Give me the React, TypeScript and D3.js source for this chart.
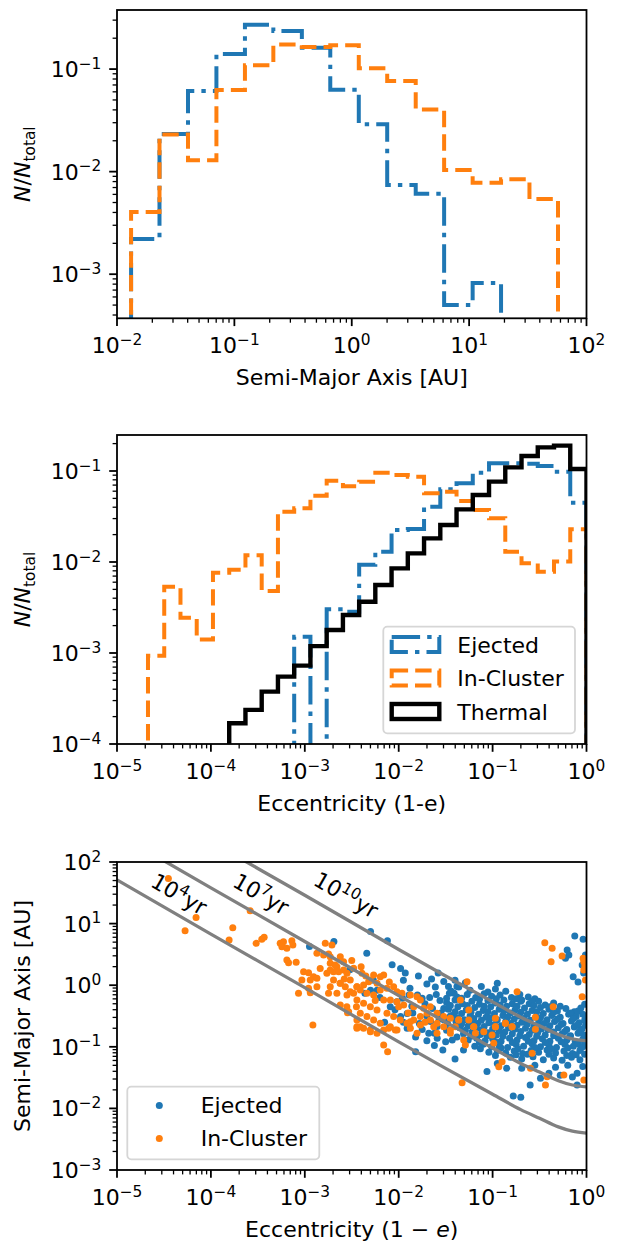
import * as d3 from "d3";
import { useEffect, useRef } from "react";

const BLUE = "#1f77b4";
const ORANGE = "#ff7f0e";
const GRAY = "#808080";

// panel 1: log10(a / AU) bin edges and normalised counts
const semiEdges = [-1.88, -1.638, -1.395, -1.153, -0.91, -0.668, -0.425, -0.183, 0.06, 0.302, 0.545, 0.787, 1.03, 1.272, 1.514, 1.757];
const semiEjected = [2.2e-3, 0.0233, 0.061, 0.14, 0.27, 0.235, 0.161, 0.063, 0.029, 7.4e-3, 6.1e-3, 5.0e-4, 8.2e-4, 0, 0];
const semiInCluster = [4.05e-3, 0.023, 0.0129, 0.0624, 0.109, 0.174, 0.164, 0.171, 0.1016, 0.0763, 0.0404, 0.01035, 7.78e-3, 8.45e-3, 5.4e-3];

// panel 2: log10(1-e) bin edges and normalised counts
const eccEdges = [-4.67, -4.497, -4.324, -4.151, -3.978, -3.805, -3.632, -3.459, -3.286, -3.113, -2.94, -2.767, -2.594, -2.421, -2.249, -2.076, -1.903, -1.73, -1.557, -1.384, -1.211, -1.038, -0.865, -0.692, -0.519, -0.346, -0.173, 0];
const eccEjected = [0, 0, 0, 0, 0, 0, 0, 0, 0, 1.51e-3, 0, 3.02e-3, 2.84e-3, 9.3e-3, 0.013, 0.0225, 0.023, 0.0405, 0.063, 0.0733, 0.0957, 0.1216, 0.1216, 0.12, 0.1135, 0.098, 0.0449];
const eccInCluster = [9.3e-4, 5.36e-3, 2.44e-3, 1.41e-3, 7.6e-3, 8.2e-3, 0.0119, 4.8e-3, 0.0357, 0.0389, 0.0536, 0.0783, 0.068, 0.0764, 0.0957, 0.0903, 0.0865, 0.0569, 0.0593, 0.0468, 0.0372, 0.0302, 0.013, 9.7e-3, 7.8e-3, 0.0101, 0.0229];
const eccThermal = [0, 0, 0, 0, 0, 1.69e-4, 2.37e-4, 3.76e-4, 5.5e-4, 7.26e-4, 1.19e-3, 1.79e-3, 2.62e-3, 3.66e-3, 5.58e-3, 8.5e-3, 0.01245, 0.0182, 0.0255, 0.0379, 0.0544, 0.0764, 0.1096, 0.146, 0.182, 0.19, 0.105];

// panel 3: [log10(1-e), log10(a/AU)]
const ejectedPoints = [
  [-1.36, -0.03], [-1.24, -0.08], [-1.12, -0.02], [-0.97, -0.06], [-0.86, -0.1], [-1.29, 0.04], [-0.95, 0.03], [-1.05, -0.11],
  [-1.46, -0.13], [-1.38, -0.19], [-1.27, -0.15], [-1.18, -0.2], [-1.09, -0.14], [-1.01, -0.18], [-0.92, -0.16], [-0.8, -0.2], [-0.71, -0.15], [-0.62, -0.19], [-0.69, -0.24], [-0.55, -0.22],
  [-1.49, -0.28], [-1.4, -0.24], [-1.32, -0.3], [-1.22, -0.26], [-1.14, -0.31], [-1.05, -0.25], [-0.97, -0.29], [-0.88, -0.24], [-0.79, -0.3], [-0.7, -0.26], [-0.61, -0.3], [-0.51, -0.26], [-0.44, -0.32], [-0.35, -0.29], [-0.28, -0.34],
  [-1.47, -0.39], [-1.37, -0.35], [-1.28, -0.4], [-1.19, -0.36], [-1.1, -0.41], [-1.02, -0.35], [-0.93, -0.39], [-0.85, -0.34], [-0.76, -0.4], [-0.66, -0.37], [-0.58, -0.41], [-0.49, -0.36], [-0.4, -0.39], [-0.31, -0.42], [-0.22, -0.38], [-0.13, -0.43], [-0.06, -0.37], [-0.02, -0.31],
  [-1.43, -0.49], [-1.33, -0.46], [-1.24, -0.5], [-1.15, -0.47], [-1.07, -0.52], [-0.98, -0.46], [-0.89, -0.49], [-0.81, -0.45], [-0.72, -0.5], [-0.63, -0.47], [-0.54, -0.52], [-0.46, -0.46], [-0.37, -0.49], [-0.28, -0.52], [-0.19, -0.47], [-0.11, -0.51], [-0.04, -0.47],
  [-1.39, -0.59], [-1.3, -0.56], [-1.21, -0.6], [-1.12, -0.57], [-1.04, -0.61], [-0.95, -0.56], [-0.86, -0.59], [-0.77, -0.55], [-0.69, -0.6], [-0.6, -0.57], [-0.51, -0.61], [-0.42, -0.56], [-0.34, -0.59], [-0.25, -0.62], [-0.16, -0.58], [-0.08, -0.61], [-0.02, -0.57],
  [-1.35, -0.69], [-1.26, -0.66], [-1.17, -0.7], [-1.09, -0.67], [-1.0, -0.71], [-0.91, -0.66], [-0.83, -0.69], [-0.74, -0.65], [-0.65, -0.7], [-0.56, -0.67], [-0.48, -0.71], [-0.39, -0.66], [-0.3, -0.69], [-0.21, -0.72], [-0.13, -0.68], [-0.05, -0.71], [-0.01, -0.65],
  [-1.31, -0.79], [-1.22, -0.76], [-1.13, -0.8], [-1.05, -0.77], [-0.96, -0.81], [-0.87, -0.76], [-0.79, -0.79], [-0.7, -0.75], [-0.61, -0.8], [-0.52, -0.77], [-0.44, -0.81], [-0.35, -0.76], [-0.26, -0.79], [-0.17, -0.82], [-0.09, -0.78], [-0.03, -0.81],
  [-1.26, -0.89], [-1.17, -0.86], [-1.08, -0.9], [-1.0, -0.87], [-0.91, -0.91], [-0.82, -0.86], [-0.74, -0.89], [-0.65, -0.85], [-0.56, -0.9], [-0.47, -0.87], [-0.39, -0.91], [-0.3, -0.86], [-0.21, -0.89], [-0.12, -0.92], [-0.04, -0.88],
  [-1.19, -0.99], [-1.1, -0.96], [-1.01, -1.0], [-0.93, -0.97], [-0.84, -1.01], [-0.75, -0.96], [-0.67, -0.99], [-0.58, -0.95], [-0.49, -1.0], [-0.4, -0.97], [-0.32, -1.01], [-0.23, -0.96], [-0.14, -0.99], [-0.06, -1.02], [-0.02, -0.95],
  [-1.04, -1.09], [-0.95, -1.06], [-0.86, -1.1], [-0.77, -1.07], [-0.68, -1.11], [-0.59, -1.06], [-0.51, -1.09], [-0.42, -1.05], [-0.33, -1.1], [-0.24, -1.07], [-0.15, -1.11], [-0.07, -1.06], [-0.02, -1.12],
  [-0.81, -1.17], [-0.69, -1.2], [-0.57, -1.16], [-0.46, -1.21], [-0.35, -1.18], [-0.26, -1.22], [-0.16, -1.17], [-0.07, -1.21],
  [-1.33, -0.21], [-1.14, -0.23], [-0.96, -0.22], [-0.75, -0.22], [-0.58, -0.26],
  [-1.45, -0.33], [-1.27, -0.33], [-1.09, -0.34], [-0.92, -0.32], [-0.74, -0.34], [-0.56, -0.33], [-0.39, -0.35],
  [-1.4, -0.43], [-1.23, -0.44], [-1.05, -0.43], [-0.88, -0.42], [-0.7, -0.44], [-0.53, -0.43], [-0.35, -0.44], [-0.17, -0.45], [-0.09, -0.42],
  [-1.38, -0.53], [-1.2, -0.54], [-1.02, -0.53], [-0.84, -0.52], [-0.67, -0.54], [-0.49, -0.53], [-0.31, -0.55], [-0.14, -0.54], [-0.01, -0.51],
  [-1.33, -0.63], [-1.16, -0.62], [-0.98, -0.64], [-0.81, -0.62], [-0.63, -0.63], [-0.45, -0.62], [-0.27, -0.64], [-0.1, -0.65],
  [-1.29, -0.73], [-1.11, -0.72], [-0.93, -0.74], [-0.76, -0.71], [-0.58, -0.73], [-0.41, -0.72], [-0.23, -0.75], [-0.07, -0.74],
  [-1.23, -0.83], [-1.06, -0.82], [-0.89, -0.83], [-0.71, -0.82], [-0.53, -0.83], [-0.35, -0.82], [-0.18, -0.84], [-0.01, -0.84],
  [-1.14, -0.93], [-0.97, -0.92], [-0.79, -0.93], [-0.62, -0.91], [-0.44, -0.93], [-0.27, -0.92], [-0.09, -0.95],
  [-1.13, -1.03], [-0.91, -1.02], [-0.73, -1.03], [-0.55, -1.01], [-0.38, -1.03], [-0.2, -1.02], [-0.04, -1.0],
  [-0.97, -1.14], [-0.75, -1.13], [-0.63, -1.12], [-0.4, -1.12], [-0.21, -1.14], [-0.11, -1.13],
  [-1.52, 0.06], [-1.47, -0.02], [-1.4, 0.08], [-1.38, -0.02], [-1.49, -0.21], [-1.41, -0.13], [-1.36, -0.21],
  [-1.95, 0.08], [-1.88, -0.05], [-1.89, -0.16], [-1.96, -0.21], [-1.8, -0.16], [-1.75, -0.21],
  [-2.04, -0.4], [-1.91, -0.46], [-1.89, -0.67], [-1.82, -0.84], [-1.68, -0.78], [-1.59, -0.67], [-1.52, -0.56], [-1.49, -0.73], [-1.4, -0.67], [-1.38, -0.84],
  [-2.27, 0.08], [-2.3, -0.08], [-2.36, -0.13], [-2.23, -0.08], [-2.09, -0.35], [-2.02, -0.27], [-1.98, -0.51],
  [-1.91, -0.7], [-1.82, -1.08], [-1.66, -0.59], [-1.59, -0.86], [-1.5, -0.92], [-1.43, -0.89], [-1.4, -1.2], [-1.31, -1.05],
  [-2.3, 0.87], [-2.12, 0.72], [-2.69, 0.71], [-2.95, 0.63], [-2.34, 0.52], [-2.07, 0.33], [-1.98, 0.27], [-2.52, 0.25], [-1.79, 0.15], [-1.65, 0.1], [-1.61, -0.03],
  [-1.72, -0.3], [-1.64, -0.38], [-1.56, -0.25], [-1.7, -0.5], [-1.6, -0.15], [-1.55, -0.45], [-1.78, -0.62], [-1.62, -0.98], [-1.45, -0.5], [-1.58, 0.2], [-1.7, 0.02], [-1.86, -0.34], [-2.15, -0.6], [-2.2, -0.2], [-1.93, 0.2], [-1.53, -1.05], [-1.46, -0.33],
  [-1.85, -0.45], [-1.75, -0.72], [-1.67, -0.2], [-1.57, -0.55], [-1.48, -0.62], [-1.44, -0.1], [-1.52, -0.38], [-1.62, -0.78], [-1.7, -0.9], [-1.95, -0.6],
  [-1.06, -1.4], [-0.95, -1.27], [-0.85, -1.35], [-0.69, -1.35], [-0.6, -1.62], [-0.49, -1.51], [-0.4, -1.43], [-0.28, -1.46], [-0.1, -1.62], [-0.15, -1.49], [-0.1, -1.43], [-0.78, -1.8], [-0.7, -1.82], [-0.55, -1.3], [-0.33, -1.33], [-0.2, -1.3], [-0.04, -1.32],
  [-0.125, 0.8], [-0.036, 0.745], [-0.206, 0.572], [-0.188, 0.49], [-0.224, 0.436], [-0.142, 0.139], [-0.046, 0.328], [-0.011, 0.49], [-0.03, 0.2], [-0.09, 0.05],
];

const inClusterPoints = [
  [-4.453, 1.734], [-4.158, 1.101], [-4.275, 0.885], [-3.582, 1.21], [-3.767, 0.933], [-3.806, 0.733], [-3.518, 0.679], [-3.458, 0.744], [-3.433, 0.777],
  [-3.262, 0.679], [-3.227, 0.706], [-3.244, 0.625], [-3.138, 0.722], [-3.127, 0.652], [-3.191, 0.598], [-3.191, 0.409], [-3.173, 0.365], [-3.092, 0.371],
  [-3.013, 0.219], [-2.96, 0.203], [-2.907, 0.138], [-3.031, 0.084], [-2.942, 0.084], [-2.871, 0.111], [-3.067, -0.132], [-2.942, -0.122], [-2.871, -0.024],
  [-2.747, -0.132], [-2.96, -0.051], [-2.914, -0.647], [-2.871, 0.517], [-2.8, 0.49], [-2.747, 0.506], [-2.711, 0.652], [-2.782, 0.679], [-2.729, 0.355],
  [-2.658, 0.3], [-2.587, 0.246], [-2.623, 0.03], [-2.516, -0.106], [-2.552, -0.349], [-2.445, -0.024], [-2.445, -0.241], [-2.765, 0.192], [-2.836, 0.273],
  [-2.694, 0.219], [-2.545, -0.446], [-2.445, -0.565], [-2.445, -0.7],
  [-2.587, 0.382], [-2.676, 0.328], [-2.729, 0.247], [-2.64, 0.22], [-2.551, 0.193], [-2.694, 0.085], [-2.622, 0.031], [-2.569, -0.024], [-2.729, -0.024],
  [-2.516, 0.085], [-2.445, -0.024], [-2.409, -0.078], [-2.374, 0.004], [-2.32, 0.058], [-2.267, 0.166], [-2.196, 0.139], [-2.16, 0.166], [-2.658, -0.132],
  [-2.551, -0.159], [-2.48, -0.132], [-2.338, -0.132], [-2.267, -0.159], [-2.196, -0.078], [-2.125, -0.05], [-2.054, -0.024], [-2.018, -0.105], [-1.965, -0.132],
  [-1.876, -0.159], [-1.805, -0.186], [-1.769, -0.24], [-2.16, -0.24], [-2.089, -0.24], [-2.018, -0.267], [-1.947, -0.321], [-1.84, -0.348], [-1.734, -0.375],
  [-1.663, -0.348], [-1.698, -0.456], [-1.592, -0.456], [-1.521, -0.51], [-1.45, -0.537], [-2.374, -0.294], [-2.302, -0.348], [-2.231, -0.402], [-2.409, -0.456],
  [-2.338, -0.51], [-2.267, -0.565], [-2.196, -0.619], [-2.125, -0.456], [-2.054, -0.51], [-1.983, -0.565], [-1.912, -0.619], [-1.84, -0.565], [-1.769, -0.51],
  [-2.089, -0.673], [-2.018, -0.727], [-1.876, -0.7], [-1.805, -0.781], [-2.445, -0.673], [-2.374, -0.7], [-2.302, -0.754], [-2.231, -0.781], [-2.16, -0.727],
  [-1.663, -0.565], [-1.627, -0.673], [-1.592, -0.781], [-1.521, -0.673], [-2.622, -0.321], [-2.533, -0.429], [-1.45, -0.727], [-1.361, -0.565],
  [-2.48, 0.274], [-2.391, 0.193], [-2.303, 0.085], [-2.231, 0.031], [-2.622, 0.463], [-2.729, 0.463],
  [-2.58, 0.1], [-2.5, 0.4], [-2.4, 0.3], [-2.35, 0.15], [-2.1, 0.05], [-2.0, -0.35], [-1.9, -0.45], [-1.72, -0.6], [-2.25, -0.25], [-2.45, -0.35],
  [-1.272, 0.058], [-0.739, -0.105], [-0.355, -0.348], [-1.343, -0.24], [-1.254, -0.402], [-1.361, -0.565], [-1.254, -0.565], [-1.397, -0.673], [-1.201, -0.673],
  [-1.183, -0.781], [-0.97, -0.538], [-0.97, -0.673], [-0.864, -0.619], [-0.793, -0.673], [-0.544, -0.521], [-0.544, -0.716], [-1.006, -0.808],
  [-0.029, 0.382], [-0.029, 0.247], [-0.011, 0.085], [-0.046, -0.186], [-0.036, 0.436], [-0.018, 0.312],
  [-0.444, 0.691], [-0.366, 0.599], [-0.377, 0.382], [-0.26, 0.474],
  [-2.409, -0.673], [-2.302, -0.727], [-2.107, -0.7], [-2.036, -0.727], [-2.16, -0.971], [-2.118, -1.079], [-1.876, -0.592], [-1.769, -0.646],
  [-1.592, -0.619], [-1.45, -0.781], [-1.308, -0.89], [-1.29, -0.971], [-1.325, -1.582], [-1.201, -0.673], [-1.094, -0.754], [-0.988, -0.944], [-0.97, -0.673],
  [-0.863, -0.619], [-0.792, -0.673], [-0.934, -1.323], [-0.899, -1.241], [-0.597, -1.35], [-0.579, -1.106], [-0.437, -1.62], [-0.419, -1.485], [-0.241, -1.458],
  [-0.028, -1.539],
];

// merger-time isochrones, read at these log10(1-e)
const isoLx = [-5, -4, -3, -2, -1.5, -1, -0.7, -0.5, -0.3, -0.15, 0];
const iso4 = [1.71, 0.83, -0.04, -0.92, -1.35, -1.77, -2.02, -2.16, -2.3, -2.37, -2.4];
const iso7 = [2.46, 1.58, 0.71, -0.17, -0.6, -1.02, -1.27, -1.41, -1.55, -1.62, -1.65];
const iso10 = [3.21, 2.33, 1.46, 0.58, 0.15, -0.27, -0.52, -0.66, -0.8, -0.87, -0.9];
const isoLabels = [
  { exp: "4", lx: -4.34, ly: 1.48 },
  { exp: "7", lx: -3.467, ly: 1.48 },
  { exp: "10", lx: -2.56, ly: 1.464 },
];

const FS = 22;
const DASHDOT = "28.4,7.1,4.4,7.1";
const DASHED = "16.4,7.1";

function expText(t, e) {
  t.append("tspan").text("10");
  t.append("tspan").attr("dy", -8.5).attr("font-size", FS * 0.7).text(e < 0 ? "\u2212" + -e : String(e));
}

function axes(g, x, y, L, R, T, B) {
  const isMajor = (v) => Math.abs(Math.log10(v) - Math.round(Math.log10(v))) < 1e-6;
  x.ticks().forEach((t) => {
    const px = x(t);
    if (px < L - 0.5 || px > R + 0.5) return;
    const M = isMajor(t);
    g.append("line").attr("x1", px).attr("x2", px).attr("y1", B).attr("y2", B + (M ? 7.8 : 4.4))
      .attr("stroke", "black").attr("stroke-width", M ? 1.8 : 1.3);
    if (M) {
      const tx = g.append("text").attr("x", px).attr("y", B + 35).attr("text-anchor", "middle").attr("font-size", FS);
      expText(tx, Math.round(Math.log10(t)));
    }
  });
  y.ticks().forEach((t) => {
    const py = y(t);
    if (py < T - 0.5 || py > B + 0.5) return;
    const M = isMajor(t);
    g.append("line").attr("y1", py).attr("y2", py).attr("x1", L).attr("x2", L - (M ? 7.8 : 4.4))
      .attr("stroke", "black").attr("stroke-width", M ? 1.8 : 1.3);
    if (M) {
      const tx = g.append("text").attr("x", L - 15.6).attr("y", py + 8).attr("text-anchor", "end").attr("font-size", FS);
      expText(tx, Math.round(Math.log10(t)));
    }
  });
  g.append("rect").attr("x", L).attr("y", T).attr("width", R - L).attr("height", B - T)
    .attr("fill", "none").attr("stroke", "black").attr("stroke-width", 1.8);
}

function stepPath(edges, vals, x, y, floorY) {
  const yy = (v) => (v > 0 ? y(v) : floorY);
  let p = "M" + x(10 ** edges[0]) + "," + floorY;
  vals.forEach((v, i) => {
    p += "L" + x(10 ** edges[i]) + "," + yy(v) + "L" + x(10 ** edges[i + 1]) + "," + yy(v);
  });
  p += "L" + x(10 ** edges[edges.length - 1]) + "," + floorY;
  return p;
}

function clip(svg, id, L, R, T, B) {
  svg.append("clipPath").attr("id", id).append("rect").attr("x", L).attr("y", T).attr("width", R - L).attr("height", B - T);
}

function nLabel(svg, cy) {
  const t = svg.append("text").attr("transform", "translate(30," + cy + ") rotate(-90)")
    .attr("text-anchor", "middle").attr("font-size", FS);
  t.append("tspan").attr("font-style", "italic").text("N");
  t.append("tspan").text("/");
  t.append("tspan").attr("font-style", "italic").text("N");
  t.append("tspan").attr("dy", 4.5).attr("font-size", FS * 0.7).text("total");
}

function draw(svg) {
  const L = 117, R = 586.5;

  // ---- semi-major axis histogram
  let T = 10, B = 318.3;
  let x = d3.scaleLog().domain([1e-2, 1e2]).range([L, R]);
  let y = d3.scaleLog().domain([10 ** -3.43, 10 ** -0.424]).range([B, T]);
  clip(svg, "c1", L, R, T, B);
  const g1 = svg.append("g").attr("clip-path", "url(#c1)");
  g1.append("path").attr("d", stepPath(semiEdges, semiEjected, x, y, B + 20)).attr("fill", "none")
    .attr("stroke", BLUE).attr("stroke-width", 4).attr("stroke-dasharray", DASHDOT);
  g1.append("path").attr("d", stepPath(semiEdges, semiInCluster, x, y, B + 20)).attr("fill", "none")
    .attr("stroke", ORANGE).attr("stroke-width", 4).attr("stroke-dasharray", DASHED);
  axes(svg.append("g"), x, y, L, R, T, B);
  svg.append("text").attr("x", (L + R) / 2).attr("y", B + 67).attr("text-anchor", "middle").attr("font-size", FS).text("Semi-Major Axis [AU]");
  nLabel(svg, (T + B) / 2);

  // ---- eccentricity histogram
  T = 435; B = 744;
  x = d3.scaleLog().domain([1e-5, 1]).range([L, R]);
  y = d3.scaleLog().domain([1e-4, 10 ** (-4 + 309 / 91)]).range([B, T]);
  clip(svg, "c2", L, R, T, B);
  const g2 = svg.append("g").attr("clip-path", "url(#c2)");
  g2.append("path").attr("d", stepPath(eccEdges, eccEjected, x, y, B + 20)).attr("fill", "none")
    .attr("stroke", BLUE).attr("stroke-width", 4).attr("stroke-dasharray", DASHDOT);
  g2.append("path").attr("d", stepPath(eccEdges, eccInCluster, x, y, B + 20)).attr("fill", "none")
    .attr("stroke", ORANGE).attr("stroke-width", 4).attr("stroke-dasharray", DASHED);
  g2.append("path").attr("d", stepPath(eccEdges, eccThermal, x, y, B + 20)).attr("fill", "none")
    .attr("stroke", "black").attr("stroke-width", 4.4);
  axes(svg.append("g"), x, y, L, R, T, B);
  svg.append("text").attr("x", (L + R) / 2).attr("y", B + 67).attr("text-anchor", "middle").attr("font-size", FS).text("Eccentricity (1-e)");
  nLabel(svg, (T + B) / 2);

  // legend
  const lg = svg.append("g");
  lg.append("rect").attr("x", 383.3).attr("y", 626.7).attr("width", 191.7).attr("height", 106.6).attr("rx", 4)
    .attr("fill", "white").attr("fill-opacity", 0.8).attr("stroke", "#d6d6d6").attr("stroke-width", 1.8);
  [
    { name: "Ejected", color: BLUE, dash: DASHDOT, w: 4 },
    { name: "In-Cluster", color: ORANGE, dash: DASHED, w: 4 },
    { name: "Thermal", color: "black", dash: null, w: 4.4 },
  ].forEach((d, i) => {
    const cy = 644.5 + i * 33.5;
    lg.append("rect").attr("x", 391.7).attr("y", cy - 7.5).attr("width", 47.6).attr("height", 15)
      .attr("fill", "none").attr("stroke", d.color).attr("stroke-width", d.w).attr("stroke-dasharray", d.dash);
    lg.append("text").attr("x", 457.3).attr("y", cy + 8).attr("font-size", FS).text(d.name);
  });

  // ---- scatter
  T = 862; B = 1170;
  x = d3.scaleLog().domain([1e-5, 1]).range([L, R]);
  y = d3.scaleLog().domain([1e-3, 1e2]).range([B, T]);
  clip(svg, "c3", L, R, T, B);
  const g3 = svg.append("g").attr("clip-path", "url(#c3)");
  g3.selectAll("circle.ej").data(ejectedPoints).enter().append("circle")
    .attr("cx", (d) => x(10 ** d[0])).attr("cy", (d) => y(10 ** d[1])).attr("r", 3.5).attr("fill", BLUE);
  g3.selectAll("circle.ic").data(inClusterPoints).enter().append("circle")
    .attr("cx", (d) => x(10 ** d[0])).attr("cy", (d) => y(10 ** d[1])).attr("r", 3.5).attr("fill", ORANGE);
  const line = d3.line().x((d) => x(10 ** d[0])).y((d) => y(10 ** d[1])).curve(d3.curveMonotoneX);
  [iso4, iso7, iso10].forEach((iso) => {
    g3.append("path").attr("d", line(isoLx.map((v, i) => [v, iso[i]]))).attr("fill", "none")
      .attr("stroke", GRAY).attr("stroke-width", 3.3);
  });
  isoLabels.forEach((d) => {
    const t = svg.append("text").attr("font-size", FS).attr("text-anchor", "middle")
      .attr("transform", "translate(" + x(10 ** d.lx) + "," + y(10 ** d.ly) + ") rotate(30)").attr("dy", "0.35em");
    t.append("tspan").text("10");
    t.append("tspan").attr("dy", -8.5).attr("font-size", FS * 0.7).text(d.exp);
    t.append("tspan").attr("dy", 8.5).text("yr");
  });
  axes(svg.append("g"), x, y, L, R, T, B);
  const xl = svg.append("text").attr("x", (L + R) / 2).attr("y", B + 67).attr("text-anchor", "middle").attr("font-size", FS);
  xl.append("tspan").text("Eccentricity (1 \u2212 ");
  xl.append("tspan").attr("font-style", "italic").text("e");
  xl.append("tspan").text(")");
  svg.append("text").attr("transform", "translate(30," + (T + B) / 2 + ") rotate(-90)")
    .attr("text-anchor", "middle").attr("font-size", FS).text("Semi-Major Axis [AU]");

  const lg2 = svg.append("g");
  lg2.append("rect").attr("x", 127.3).attr("y", 1086.7).attr("width", 192).attr("height", 72.6).attr("rx", 4)
    .attr("fill", "white").attr("fill-opacity", 0.8).attr("stroke", "#d6d6d6").attr("stroke-width", 1.8);
  [{ name: "Ejected", color: BLUE }, { name: "In-Cluster", color: ORANGE }].forEach((d, i) => {
    const cy = 1105.5 + i * 33;
    lg2.append("circle").attr("cx", 159.3).attr("cy", cy).attr("r", 3.5).attr("fill", d.color);
    lg2.append("text").attr("x", 200.7).attr("y", cy + 7.5).attr("font-size", FS).text(d.name);
  });
}

export default function App() {
  const ref = useRef(null);
  useEffect(() => {
    const svg = d3.select(ref.current);
    svg.selectAll("*").remove();
    draw(svg);
  }, []);
  return (
    <svg ref={ref} width={618} height={1241} fontFamily="DejaVu Sans, sans-serif"
      style={{ position: "absolute", left: 0, top: 0, background: "white" }} />
  );
}
